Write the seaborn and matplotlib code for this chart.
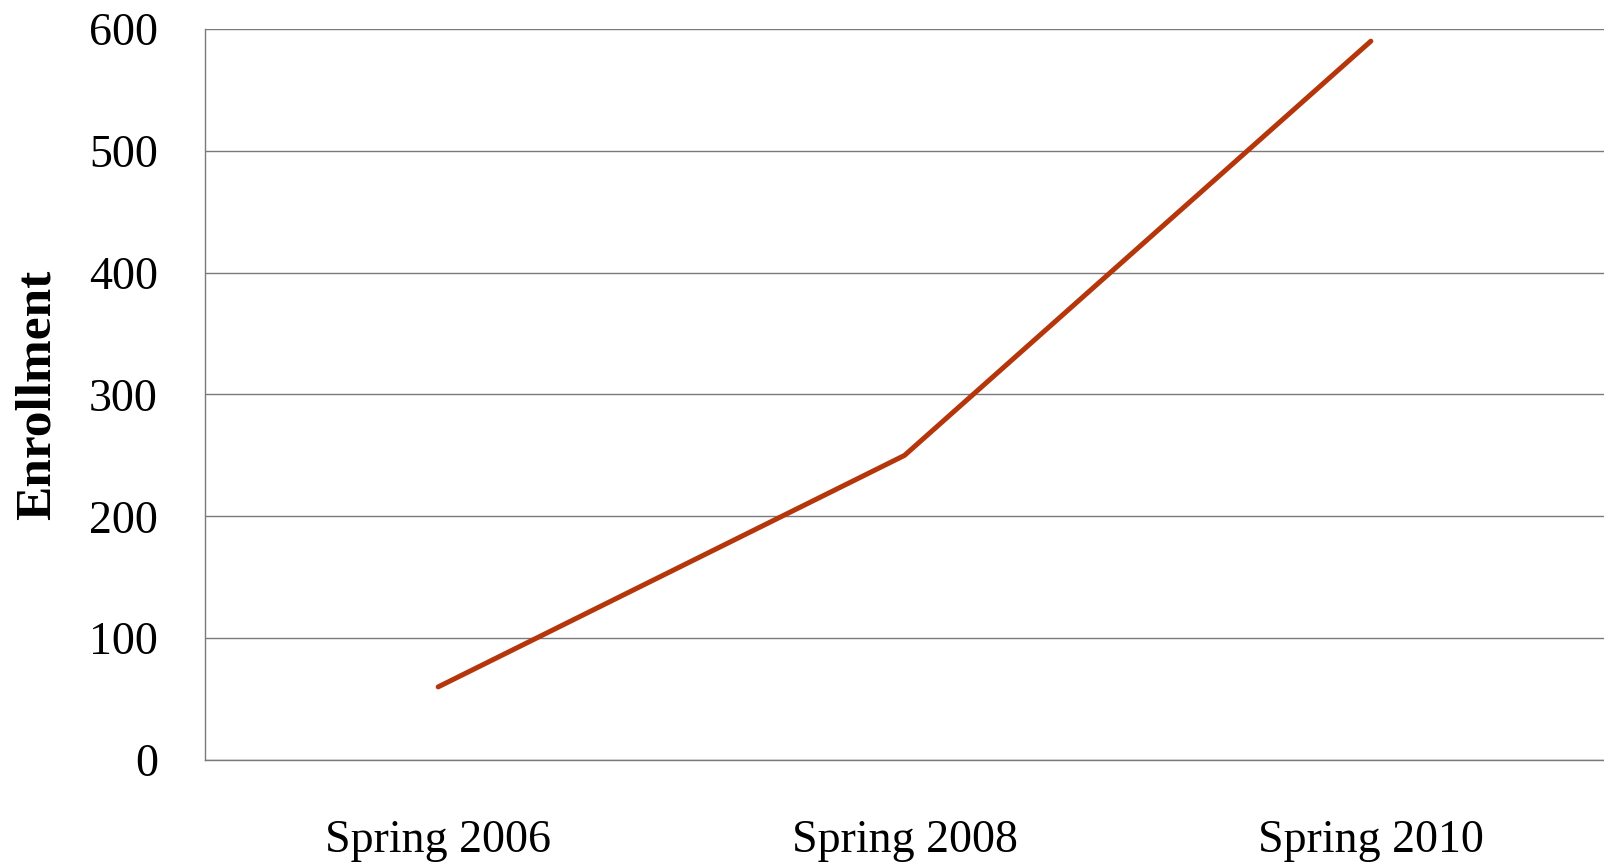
import matplotlib
matplotlib.use("Agg")
import matplotlib.pyplot as plt
import pandas as pd
import seaborn as sns

# enrollment by term
terms = ["Spring 2006", "Spring 2008", "Spring 2010"]
enrollment = [60, 250, 590]
y_ticks = [0, 100, 200, 300, 400, 500, 600]

df = pd.DataFrame({"term": terms, "enrollment": enrollment})

sns.set_theme(style="white")
plt.rcParams["font.family"] = ["Liberation Serif", "DejaVu Serif"]

fig = plt.figure(figsize=(16.04, 8.66), dpi=100)
ax = fig.add_axes([205 / 1604, 106 / 866, 1399 / 1604, 731 / 866])

sns.lineplot(data=df, x="term", y="enrollment", ax=ax,
             color="#b5360b", linewidth=3.6, solid_capstyle="round", sort=False)

ax.set_xlim(-0.5, 2.5)
ax.set_ylim(0, 600)
ax.set_yticks(y_ticks)
ax.yaxis.grid(True, color="#7a7a7a", linewidth=1.0)
ax.set_axisbelow(True)

for side in ["top", "right"]:
    ax.spines[side].set_visible(False)
for side in ["left", "bottom"]:
    ax.spines[side].set_color("#7a7a7a")
    ax.spines[side].set_linewidth(1.0)

ax.tick_params(axis="both", length=0, labelsize=33, colors="black")
ax.tick_params(axis="y", pad=34)
ax.tick_params(axis="x", pad=43)

ax.set_xlabel("")
ax.set_ylabel("Enrollment", fontsize=37, fontweight="bold", color="black")
ax.yaxis.set_label_coords(-0.103, 0.5)

fig.savefig("out.png", dpi=100, facecolor="white")
